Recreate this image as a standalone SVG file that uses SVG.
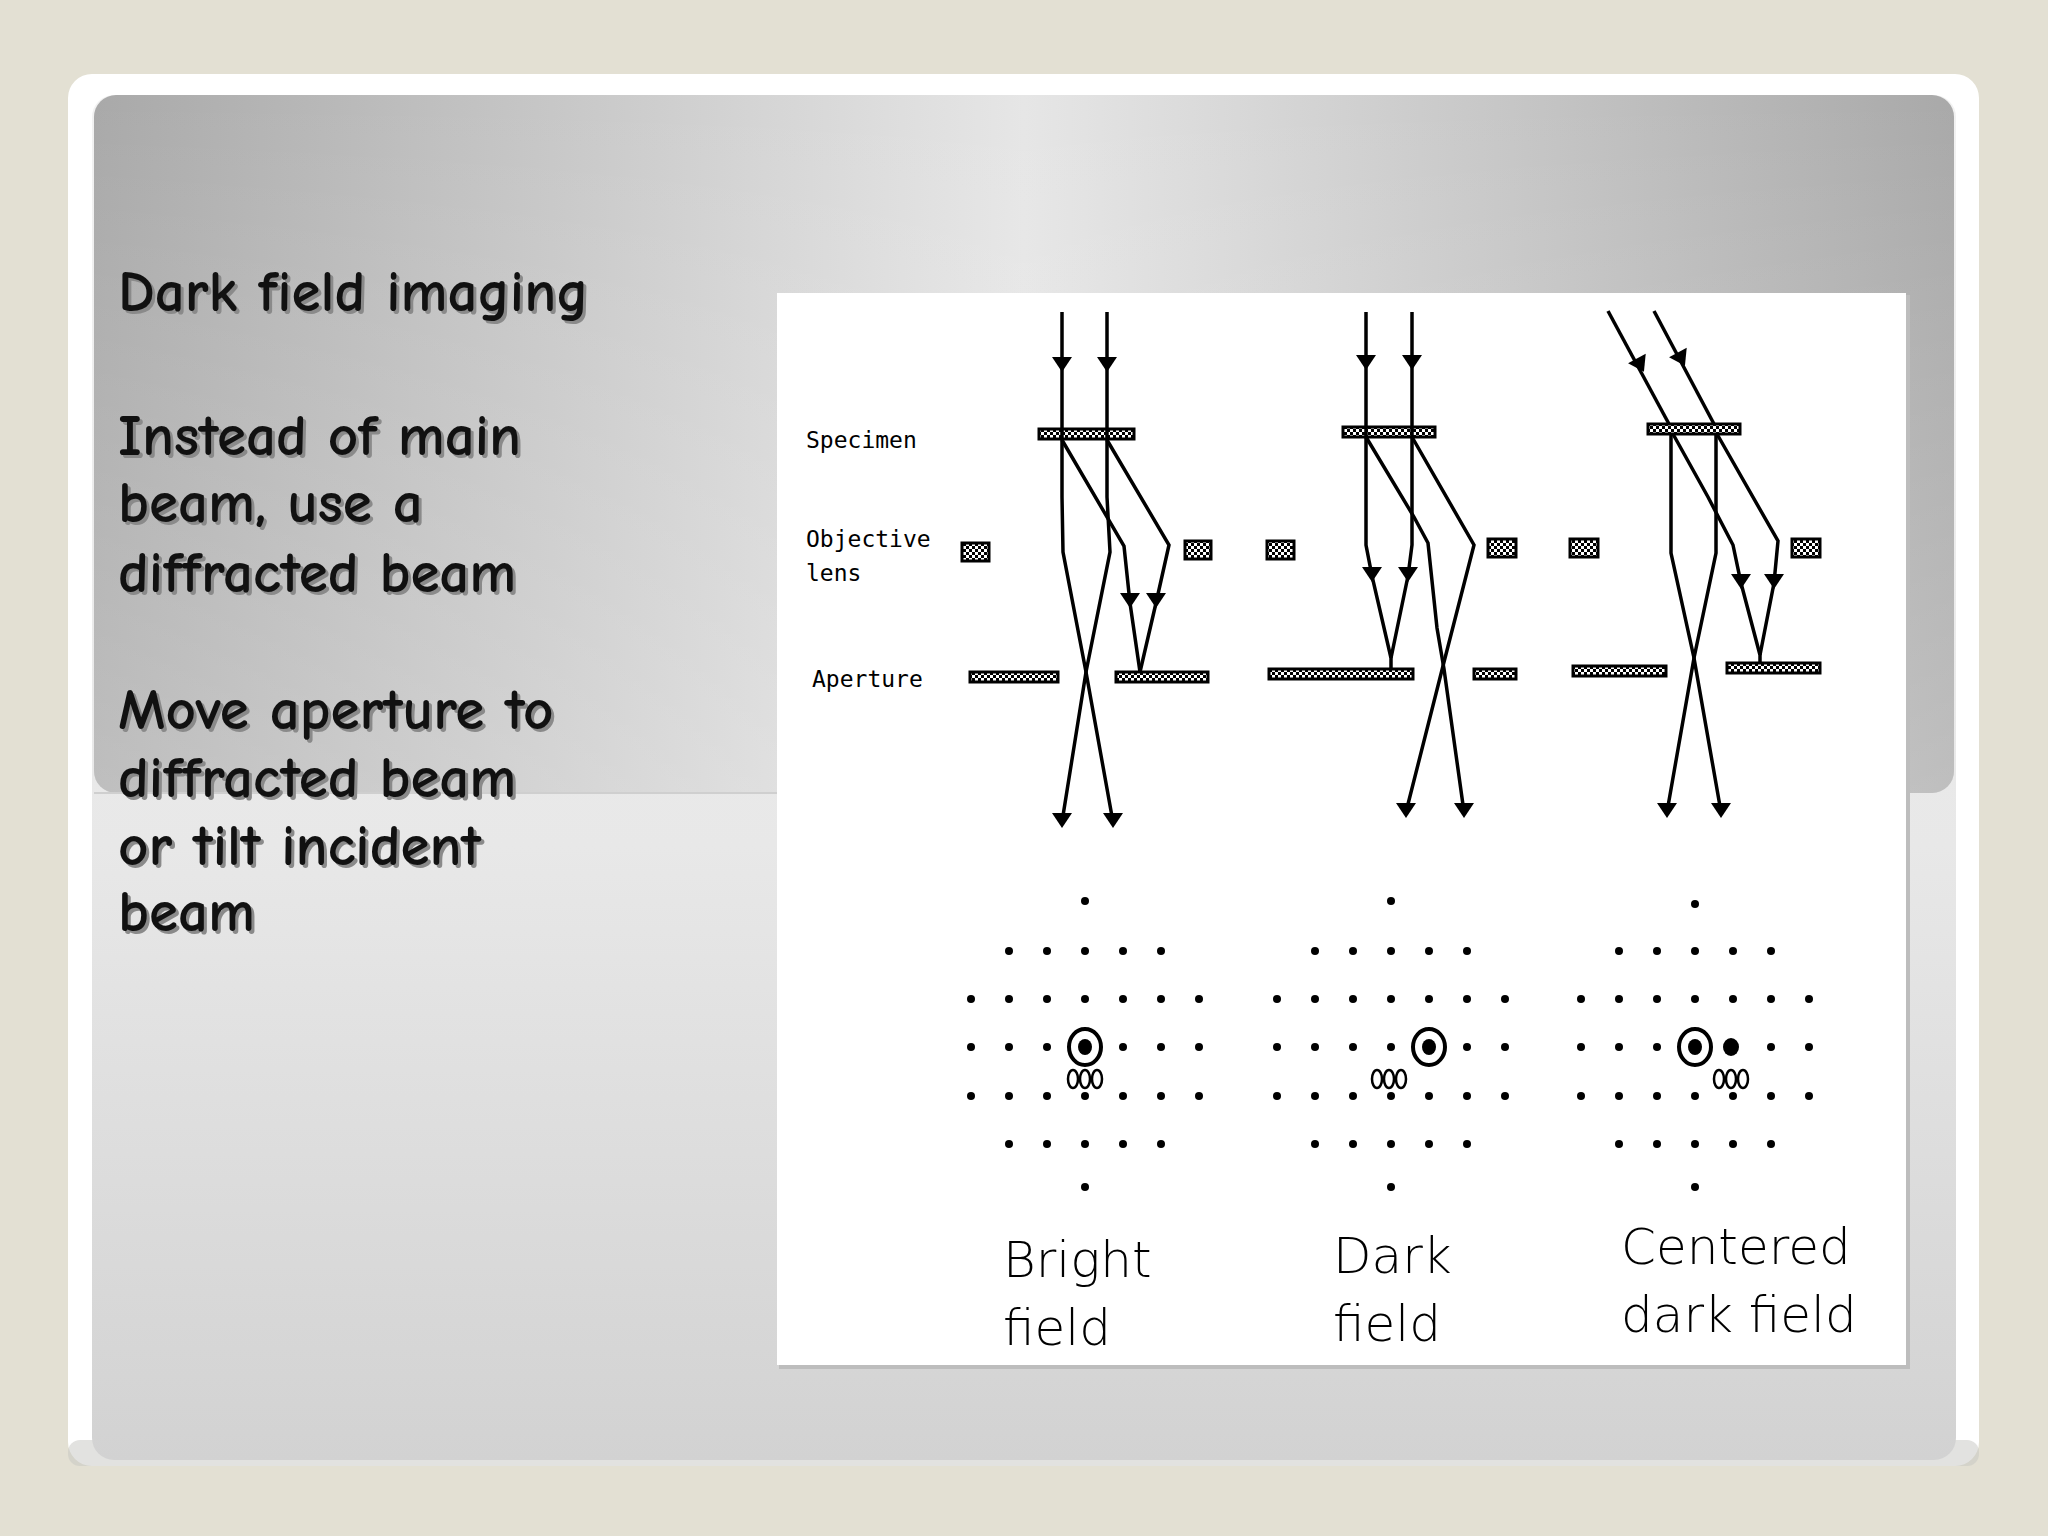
<svg xmlns="http://www.w3.org/2000/svg" xmlns:xlink="http://www.w3.org/1999/xlink" width="2048" height="1536" viewBox="0 0 2048 1536">
<defs>
<linearGradient id="body" x1="0" y1="0" x2="0" y2="1"><stop offset="0" stop-color="#f2f2f2"/><stop offset="0.55" stop-color="#e8e8e8"/><stop offset="1" stop-color="#d2d2d2"/></linearGradient>
<linearGradient id="head" x1="0" y1="0" x2="1" y2="0"><stop offset="0" stop-color="#a9a9a9"/><stop offset="0.5" stop-color="#e6e6e6"/><stop offset="1" stop-color="#a9a9a9"/></linearGradient>
<linearGradient id="headv" x1="0" y1="0" x2="0" y2="1"><stop offset="0" stop-color="#ffffff" stop-opacity="0"/><stop offset="1" stop-color="#ffffff" stop-opacity="0.25"/></linearGradient>
<pattern id="hatch" width="6" height="6" patternUnits="userSpaceOnUse"><rect width="6" height="6" fill="#fff"/><rect x="0" y="0" width="3" height="3" fill="#000"/><rect x="3" y="3" width="3" height="3" fill="#000"/></pattern>
<path id="ah" d="M-10,-13 L10,-13 L0,2 Z" fill="#000"/>
<style>
.t{font-family:"Comic Neue","DejaVu Sans",sans-serif;font-size:59px;font-weight:700;fill:#111}
.sh{font-family:"Comic Neue","DejaVu Sans",sans-serif;font-size:59px;font-weight:700;fill:#8a8a8a}
.s{font-family:"DejaVu Sans Mono",monospace;font-size:23px;fill:#000}
.l{font-family:"DejaVu Sans",sans-serif;font-size:50px;fill:#000;font-weight:300}
.b{fill:none;stroke:#000;stroke-width:3.5}
.bar{fill:url(#hatch);stroke:#000;stroke-width:3}
.d{fill:#000}
</style>
</defs>
<rect width="2048" height="1536" fill="#e3e0d3"/>
<rect x="68" y="74" width="1911" height="1392" rx="24" fill="#ffffff"/>
<rect x="68" y="1440" width="1911" height="26" rx="12" fill="#c5c5c2" opacity="0.5"/>
<rect x="92" y="95" width="1864" height="1365" rx="22" fill="url(#body)"/>
<rect x="94" y="95" width="1860" height="698" rx="22" fill="url(#head)"/>
<rect x="94" y="95" width="1860" height="698" rx="22" fill="url(#headv)"/>
<line x1="94" y1="793" x2="777" y2="793" stroke="#cfcfcf" stroke-width="2"/>

<g id="text">
<text class="sh" x="121" y="314">Dark field imaging</text>
<text class="t" x="118" y="311">Dark field imaging</text>
<g class="sh" transform="translate(3,3)">
<text x="118" y="455">Instead of main</text><text x="118" y="522">beam, use a</text><text x="118" y="592">diffracted beam</text>
<text x="118" y="729">Move aperture to</text><text x="118" y="797">diffracted beam</text><text x="118" y="865">or tilt incident</text><text x="118" y="931">beam</text>
</g>
<g class="t">
<text x="118" y="455">Instead of main</text><text x="118" y="522">beam, use a</text><text x="118" y="592">diffracted beam</text>
<text x="118" y="729">Move aperture to</text><text x="118" y="797">diffracted beam</text><text x="118" y="865">or tilt incident</text><text x="118" y="931">beam</text>
</g>
</g>

<g id="figure">
<rect x="779" y="295" width="1131" height="1074" fill="#bdbdbd"/>
<rect x="777" y="293" width="1129" height="1072" fill="#ffffff"/>
</g>

<g id="labels">
<text class="s" x="806" y="448">Specimen</text>
<text class="s" x="806" y="547">Objective</text>
<text class="s" x="806" y="581">lens</text>
<text class="s" x="812" y="687">Aperture</text>
<text class="l" x="1003" y="1277">Bright</text><text class="l" x="1003" y="1345">field</text>
<text class="l" x="1333" y="1273">Dark</text><text class="l" x="1333" y="1341">field</text>
<text class="l" x="1621" y="1264">Centered</text><text class="l" x="1621" y="1332">dark field</text>
</g>

<g id="optics">
<rect class="bar" x="1039" y="429" width="95" height="10"/>
<rect class="bar" x="962" y="543" width="27" height="18"/><rect class="bar" x="1185" y="541" width="26" height="18"/>
<rect class="bar" x="970" y="672" width="88" height="10"/><rect class="bar" x="1116" y="672" width="92" height="10"/>
<rect class="bar" x="1343" y="427" width="92" height="10"/>
<rect class="bar" x="1267" y="541" width="27" height="18"/><rect class="bar" x="1488" y="539" width="28" height="18"/>
<rect class="bar" x="1269" y="669" width="144" height="10"/><rect class="bar" x="1474" y="669" width="42" height="10"/>
<rect class="bar" x="1648" y="424" width="92" height="10"/>
<rect class="bar" x="1570" y="539" width="28" height="18"/><rect class="bar" x="1792" y="539" width="28" height="18"/>
<rect class="bar" x="1573" y="666" width="93" height="10"/><rect class="bar" x="1727" y="663" width="93" height="10"/>
</g>

<g id="connectors">
<path class="b" d="M1062,312 V497 L1063,552 L1086,672 L1062,822"/>
<path class="b" d="M1107,312 V497 L1110,552 L1086,672 L1113,822"/>
<path class="b" d="M1062,440 L1124,546 L1130,603 L1140,672"/>
<path class="b" d="M1107,440 L1169,545 L1156,603 L1140,672"/>
<use xlink:href="#ah" x="1062" y="370"/><use xlink:href="#ah" x="1107" y="370"/>
<use xlink:href="#ah" x="1130" y="606"/><use xlink:href="#ah" x="1156" y="606"/>
<use xlink:href="#ah" x="1062" y="826"/><use xlink:href="#ah" x="1113" y="826"/>
<path class="b" d="M1366,312 V545 L1372,576 L1391,658 V669"/>
<path class="b" d="M1412,312 V545 L1408,576 L1391,658"/>
<path class="b" d="M1366,437 L1414,517 L1428,543 L1437,628 L1444,669 L1464,812"/>
<path class="b" d="M1412,437 L1474,545 L1444,662 L1406,812"/>
<use xlink:href="#ah" x="1366" y="368"/><use xlink:href="#ah" x="1412" y="368"/>
<use xlink:href="#ah" x="1372" y="580"/><use xlink:href="#ah" x="1408" y="580"/>
<use xlink:href="#ah" x="1406" y="816"/><use xlink:href="#ah" x="1464" y="816"/>
<path class="b" d="M1608,311 L1669,424"/>
<path class="b" d="M1654,311 L1714,424"/>
<path class="b" d="M1671,434 V553 L1694,658 L1667,812"/>
<path class="b" d="M1716,434 V553 L1694,658 L1721,812"/>
<path class="b" d="M1673,434 L1708,497 L1733,545 L1741,583 L1760,655 V663"/>
<path class="b" d="M1717,434 L1778,541 L1774,583 L1760,655"/>
<use xlink:href="#ah" transform="translate(1643,370) rotate(-28)"/><use xlink:href="#ah" transform="translate(1684,364) rotate(-28)"/>
<use xlink:href="#ah" x="1741" y="587"/><use xlink:href="#ah" x="1774" y="587"/>
<use xlink:href="#ah" x="1667" y="816"/><use xlink:href="#ah" x="1721" y="816"/>
</g>

<g id="pattern1" transform="translate(1085,0)">
<g class="d">
<circle cx="0" cy="901" r="4"/>
<circle cx="-76" cy="951" r="4"/><circle cx="-38" cy="951" r="4"/><circle cx="0" cy="951" r="4"/><circle cx="38" cy="951" r="4"/><circle cx="76" cy="951" r="4"/>
<circle cx="-114" cy="999" r="4"/><circle cx="-76" cy="999" r="4"/><circle cx="-38" cy="999" r="4"/><circle cx="0" cy="999" r="4"/><circle cx="38" cy="999" r="4"/><circle cx="76" cy="999" r="4"/><circle cx="114" cy="999" r="4"/>
<circle cx="-114" cy="1047" r="4"/><circle cx="-76" cy="1047" r="4"/><circle cx="-38" cy="1047" r="4"/><circle cx="38" cy="1047" r="4"/><circle cx="76" cy="1047" r="4"/><circle cx="114" cy="1047" r="4"/>
<circle cx="-114" cy="1096" r="4"/><circle cx="-76" cy="1096" r="4"/><circle cx="-38" cy="1096" r="4"/><circle cx="0" cy="1096" r="4"/><circle cx="38" cy="1096" r="4"/><circle cx="76" cy="1096" r="4"/><circle cx="114" cy="1096" r="4"/>
<circle cx="-76" cy="1144" r="4"/><circle cx="-38" cy="1144" r="4"/><circle cx="0" cy="1144" r="4"/><circle cx="38" cy="1144" r="4"/><circle cx="76" cy="1144" r="4"/>
<circle cx="0" cy="1187" r="4"/>
</g>
<ellipse cx="0" cy="1047" rx="16" ry="18" fill="none" stroke="#000" stroke-width="4"/><ellipse cx="0" cy="1047" rx="7" ry="8" class="d"/>
<g fill="none" stroke="#000" stroke-width="2.5"><ellipse cx="-12" cy="1079" rx="5" ry="9"/><ellipse cx="0" cy="1079" rx="5" ry="9"/><ellipse cx="12" cy="1079" rx="5" ry="9"/></g>
</g>

<g id="pattern2" transform="translate(1391,0)">
<g class="d">
<circle cx="0" cy="901" r="4"/>
<circle cx="-76" cy="951" r="4"/><circle cx="-38" cy="951" r="4"/><circle cx="0" cy="951" r="4"/><circle cx="38" cy="951" r="4"/><circle cx="76" cy="951" r="4"/>
<circle cx="-114" cy="999" r="4"/><circle cx="-76" cy="999" r="4"/><circle cx="-38" cy="999" r="4"/><circle cx="0" cy="999" r="4"/><circle cx="38" cy="999" r="4"/><circle cx="76" cy="999" r="4"/><circle cx="114" cy="999" r="4"/>
<circle cx="-114" cy="1047" r="4"/><circle cx="-76" cy="1047" r="4"/><circle cx="-38" cy="1047" r="4"/><circle cx="0" cy="1047" r="4"/><circle cx="76" cy="1047" r="4"/><circle cx="114" cy="1047" r="4"/>
<circle cx="-114" cy="1096" r="4"/><circle cx="-76" cy="1096" r="4"/><circle cx="-38" cy="1096" r="4"/><circle cx="0" cy="1096" r="4"/><circle cx="38" cy="1096" r="4"/><circle cx="76" cy="1096" r="4"/><circle cx="114" cy="1096" r="4"/>
<circle cx="-76" cy="1144" r="4"/><circle cx="-38" cy="1144" r="4"/><circle cx="0" cy="1144" r="4"/><circle cx="38" cy="1144" r="4"/><circle cx="76" cy="1144" r="4"/>
<circle cx="0" cy="1187" r="4"/>
</g>
<ellipse cx="38" cy="1047" rx="16" ry="18" fill="none" stroke="#000" stroke-width="4"/><ellipse cx="38" cy="1047" rx="7" ry="8" class="d"/>
<g fill="none" stroke="#000" stroke-width="2.5"><ellipse cx="-14" cy="1079" rx="5" ry="9"/><ellipse cx="-2" cy="1079" rx="5" ry="9"/><ellipse cx="10" cy="1079" rx="5" ry="9"/></g>
</g>

<g id="pattern3" transform="translate(1695,0)">
<g class="d">
<circle cx="0" cy="904" r="4"/>
<circle cx="-76" cy="951" r="4"/><circle cx="-38" cy="951" r="4"/><circle cx="0" cy="951" r="4"/><circle cx="38" cy="951" r="4"/><circle cx="76" cy="951" r="4"/>
<circle cx="-114" cy="999" r="4"/><circle cx="-76" cy="999" r="4"/><circle cx="-38" cy="999" r="4"/><circle cx="0" cy="999" r="4"/><circle cx="38" cy="999" r="4"/><circle cx="76" cy="999" r="4"/><circle cx="114" cy="999" r="4"/>
<circle cx="-114" cy="1047" r="4"/><circle cx="-76" cy="1047" r="4"/><circle cx="-38" cy="1047" r="4"/><circle cx="76" cy="1047" r="4"/><circle cx="114" cy="1047" r="4"/>
<circle cx="-114" cy="1096" r="4"/><circle cx="-76" cy="1096" r="4"/><circle cx="-38" cy="1096" r="4"/><circle cx="0" cy="1096" r="4"/><circle cx="38" cy="1096" r="4"/><circle cx="76" cy="1096" r="4"/><circle cx="114" cy="1096" r="4"/>
<circle cx="-76" cy="1144" r="4"/><circle cx="-38" cy="1144" r="4"/><circle cx="0" cy="1144" r="4"/><circle cx="38" cy="1144" r="4"/><circle cx="76" cy="1144" r="4"/>
<circle cx="0" cy="1187" r="4"/>
</g>
<ellipse cx="0" cy="1047" rx="16" ry="18" fill="none" stroke="#000" stroke-width="4"/><ellipse cx="0" cy="1047" rx="7" ry="8" class="d"/>
<ellipse cx="36" cy="1047" rx="8" ry="9" class="d"/>
<g fill="none" stroke="#000" stroke-width="2.5"><ellipse cx="24" cy="1079" rx="5" ry="9"/><ellipse cx="36" cy="1079" rx="5" ry="9"/><ellipse cx="48" cy="1079" rx="5" ry="9"/></g>
</g>
</svg>
